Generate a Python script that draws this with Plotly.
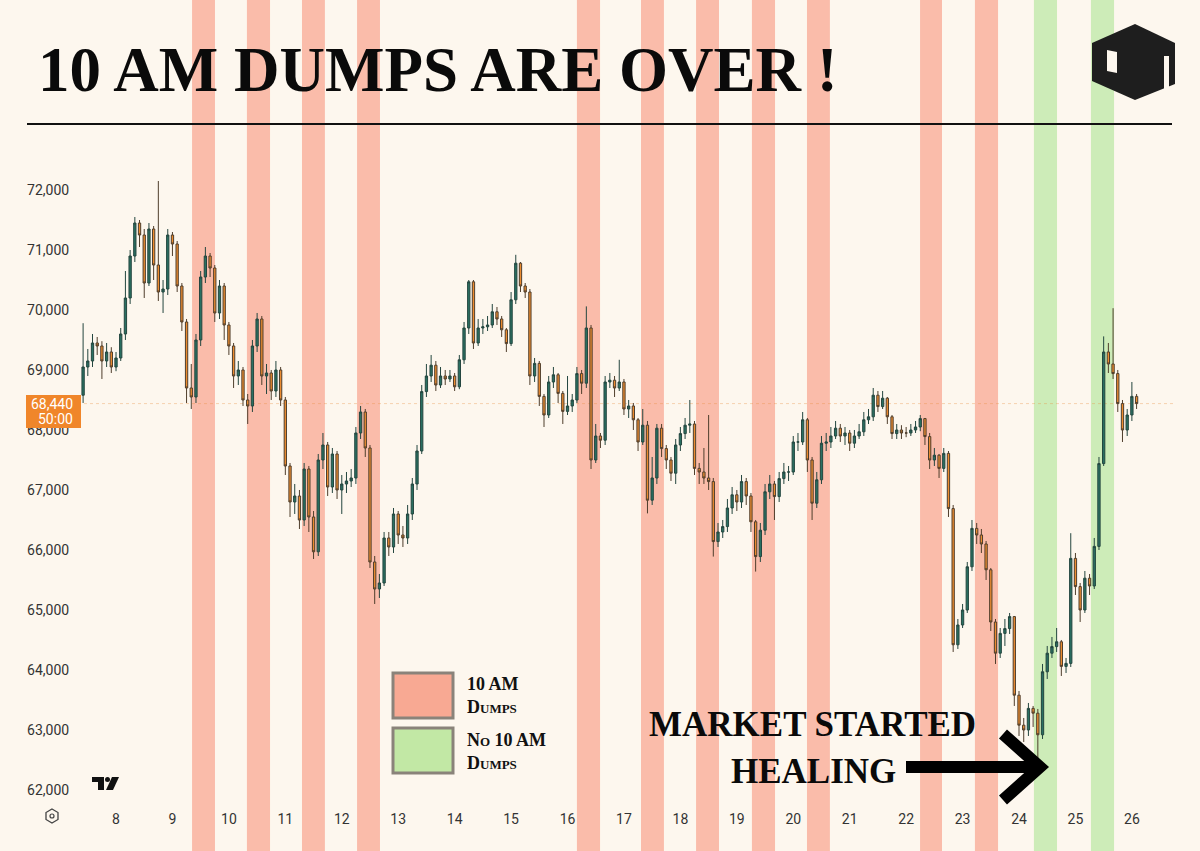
import pandas as pd
import plotly.graph_objects as go

W, H = 1200, 851
BG = '#fdf7ee'

# ── Candle data (2h bars) ────────────────────────────────────────────────────
START = '2024-03-07 10:00'
FIRST_OPEN = 68580
CLOSE = [
    69050, 69150, 69450, 69400, 69150, 69300, 69050, 69200, 69600, 70200,
    70900, 71450, 71250, 70450, 71350, 70750, 70300, 70350, 71250, 71100,
    70400, 69800, 68700, 68550, 69500, 70550, 70900, 70700, 69950, 70400,
    69750, 69400, 68900, 69000, 68500, 68400, 69400, 69850, 68900, 68950,
    68650, 69000, 68500, 67400, 66800, 66900, 66500, 67350, 66550, 65970,
    67500, 67750, 67050, 67600, 67000, 67100, 67150, 67200, 67950, 68300,
    67700, 65800, 65350, 65450, 66200, 66050, 66600, 66250, 66200, 66600,
    67100, 67650, 68640, 68900, 69080, 68750, 68900, 68850, 68900, 68720,
    69170, 69700, 70470, 69450, 69700, 69720, 69750, 69970, 69850, 69670,
    69440, 70170, 70780, 70400, 70300, 68900, 69110, 68560, 68250, 68800,
    68920, 68610, 68310, 68400, 68500, 68940, 68780, 69700, 67500, 67900,
    67830, 68800, 68830, 68700, 68800, 68350, 68400, 68170, 67800, 68080,
    66830, 67200, 68030, 67690, 67500, 67280, 67750, 67940, 68080, 68100,
    67360, 67300, 67200, 67140, 66140, 66300, 66390, 66700, 66920, 66800,
    67140, 66900, 66470, 65890, 66330, 66970, 67100, 66890, 67190, 67300,
    67300, 67800, 67800, 68170, 67500, 66780, 67170, 67780, 67800, 67900,
    68030, 67900, 67950, 67780, 67900, 67970, 68170, 68220, 68580, 68390,
    68530, 68220, 67940, 68000, 67950, 67950, 68000, 68050, 68190, 67890,
    67500, 67580, 67360, 67610, 66690, 64420, 64750, 65000, 65720, 66360,
    66250, 66100, 65670, 64800, 64280, 64610, 64690, 64890, 63580, 63080,
    63000, 63360, 63280, 62920, 63970, 64280, 64390, 64470, 64060, 64110,
    65860, 65390, 65000, 65530, 65400, 66060, 67440, 69300, 69100, 68940,
    68440, 68000, 68250, 68560, 68440,
]
HIGH = [
    69780, 69350, 69600, 69550, 69480, 69450, 69380, 69300, 69700, 70650,
    71000, 71550, 71500, 71350, 71450, 71400, 72150, 70500, 71350, 71300,
    71150, 70450, 69850, 69100, 69600, 70650, 71050, 70950, 70750, 70500,
    70450, 69800, 69450, 69150, 69050, 68600, 69500, 69950, 69900, 69100,
    69000, 69150, 69050, 68550, 67450, 67100, 67000, 67450, 67400, 66650,
    67600, 67950, 67800, 67700, 67650, 67250, 67300, 67350, 68050, 68400,
    68350, 67750, 65900, 65600, 66300, 66300, 66700, 66650, 66400, 66750,
    67200, 67750, 68750, 69100, 69250, 69150, 69050, 69000, 69000, 68950,
    69250, 69800, 70500, 70500, 69850, 69850, 69900, 70100, 70050, 69900,
    69700, 70300, 70920, 70800, 70450, 70350, 69200, 69150, 68600, 68900,
    69050, 68950, 68650, 68900, 68600, 69050, 69000, 70060, 69750, 68100,
    67950, 68900, 68950, 68900, 69170, 68850, 68500, 68450, 68200, 68350,
    68150, 67550, 68100, 68100, 67750, 67550, 67850, 68050, 68200, 68500,
    68150, 67450, 67700, 68250, 67200, 66450, 66500, 66850, 67050, 67000,
    67250, 67200, 66950, 66500, 66450, 67100, 67250, 67150, 67300, 67450,
    67400, 67900, 67950, 68300, 68200, 67550, 67300, 67900, 67950, 68050,
    68150, 68100, 68050, 68000, 68000, 68100, 68300, 68350, 68700, 68650,
    68650, 68550, 68250, 68100, 68080, 68050, 68100, 68150, 68250, 68200,
    67950, 67700, 67600, 67700, 67650, 66750, 64850, 65100, 65800, 66500,
    66450, 66350, 66150, 65700, 64850, 64700, 64850, 64950, 64900, 63650,
    63200, 63450, 63400, 63350, 64100, 64400, 64550, 64700, 64500, 64200,
    66280, 65950, 65450, 65650, 65600, 66200, 67550, 69560, 69450, 70030,
    69000, 68500, 68350, 68800, 68600,
]
LOW = [
    68450, 68900, 69050, 69250, 68850, 69050, 68950, 68980, 69150, 69500,
    70100, 70800, 71050, 70200, 70400, 70500, 70150, 69950, 70250, 70900,
    70300, 69650, 68450, 68350, 68450, 69400, 70450, 70550, 69800, 69850,
    69500, 69250, 68700, 68750, 68400, 68100, 68300, 69300, 68750, 68600,
    68500, 68550, 68400, 67250, 66550, 66600, 66350, 66400, 66300, 65850,
    65900, 67350, 66900, 66950, 66850, 66600, 66950, 67050, 67100, 67850,
    67550, 65700, 65100, 65200, 65400, 65900, 65950, 66100, 66050, 66100,
    66500, 67000, 67600, 68550, 68800, 68650, 68700, 68750, 68800, 68650,
    68680, 69100, 69600, 69350, 69400, 69600, 69650, 69700, 69750, 69550,
    69300, 69400, 70100, 70300, 70200, 68750, 68800, 68400, 68050, 68200,
    68700, 68450, 68100, 68250, 68300, 68450, 68600, 68700, 67350, 67450,
    67700, 67750, 68700, 68550, 68650, 68250, 68200, 68000, 67650, 67750,
    66610, 66750, 67100, 67550, 67350, 67150, 67100, 67650, 67850, 67950,
    67250, 67100, 67100, 67000, 65890, 66050, 66200, 66300, 66600, 66650,
    66700, 66750, 66300, 65640, 65800, 66250, 66850, 66500, 66800, 67100,
    67150, 67250, 67650, 67750, 67300, 66500, 66700, 67100, 67650, 67700,
    67850, 67800, 67750, 67650, 67700, 67850, 67900, 68100, 68150, 68300,
    68350, 68100, 67850, 67850, 67850, 67880, 67900, 67950, 67980, 67750,
    67350, 67400, 67200, 67300, 66550, 64300, 64350, 64700, 64950, 65650,
    66100, 65950, 65500, 64650, 64100, 64200, 64400, 64600, 63400, 62900,
    62800, 62900, 63050, 62500, 62850, 63850, 64200, 64300, 63900, 63950,
    64050, 65250, 64800, 64950, 65250, 65350, 66000, 67400, 68950, 68850,
    68300, 67800, 67900, 68150, 68350,
]

# ── Session bands (start / end) ──────────────────────────────────────────────
BAND_STARTS = [
    '2024-03-09 08:20', '2024-03-10 07:40', '2024-03-11 07:05', '2024-03-12 06:30',
    '2024-03-16 04:00', '2024-03-17 07:15', '2024-03-18 06:40', '2024-03-19 06:25',
    '2024-03-20 05:50', '2024-03-22 05:55', '2024-03-23 05:15',
    '2024-03-24 06:20', '2024-03-25 06:35',
]
BAND_ENDS = [
    '2024-03-09 18:05', '2024-03-10 17:30', '2024-03-11 16:50', '2024-03-12 16:15',
    '2024-03-16 13:50', '2024-03-17 17:00', '2024-03-18 16:25', '2024-03-19 16:15',
    '2024-03-20 15:35', '2024-03-22 15:15', '2024-03-23 15:05',
    '2024-03-24 16:10', '2024-03-25 16:25',
]
BAND_KIND = ['dump'] * 11 + ['heal'] * 2

Y_TICKS = [62000, 63000, 64000, 65000, 66000, 67000, 68000, 69000, 70000, 71000, 72000]
LAST_PRICE = 68440
LAST_PRICE_TEXT = '68,440'
COUNTDOWN_TEXT = '50:00'

X_RANGE = ['2024-03-07 07:50', '2024-03-26 18:20']
Y_RANGE = [61833, 73000]

BAND_COLORS = {'dump': '#fabcaa', 'heal': '#cdecb8'}
SERIF = 'Liberation Serif'
SANS = 'Roboto'
INK = '#1e1e1e'


def pxx(x):
    return x / W


def pxy(y):
    return 1 - y / H


def poly(points, close=True):
    s = 'M ' + ' L '.join(f'{pxx(x):.5f},{pxy(y):.5f}' for x, y in points)
    return s + (' Z' if close else '')


def paper_path(points, fill=None, line=None, close=True):
    return dict(type='path', xref='paper', yref='paper', path=poly(points, close),
                fillcolor=fill if fill else 'rgba(0,0,0,0)',
                line=line if line else dict(width=0))


times = pd.date_range(START, periods=len(CLOSE), freq='2h')
opens = [FIRST_OPEN] + CLOSE[:-1]

fig = go.Figure()
fig.add_trace(go.Candlestick(
    x=times, open=opens, high=HIGH, low=LOW, close=CLOSE,
    increasing=dict(line=dict(color='#24463f', width=1), fillcolor='#2a7062'),
    decreasing=dict(line=dict(color='#4f3e2c', width=1), fillcolor='#ec8c30'),
    showlegend=False, hoverinfo='skip',
))

shapes = []
# vertical session bands, full figure height
for s, e, k in zip(BAND_STARTS, BAND_ENDS, BAND_KIND):
    shapes.append(dict(type='rect', xref='x', yref='paper', x0=s, x1=e,
                       y0=-0.2, y1=1.2, fillcolor=BAND_COLORS[k],
                       line=dict(width=0), layer='below'))

# last price dotted line
shapes.append(dict(type='line', xref='paper', yref='y', x0=pxx(78), x1=pxx(1175),
                   y0=LAST_PRICE, y1=LAST_PRICE,
                   line=dict(color='rgba(235,140,60,0.35)', width=1, dash='dot'),
                   layer='below'))

# title separator
shapes.append(dict(type='line', xref='paper', yref='paper', x0=pxx(27), x1=pxx(1172),
                   y0=pxy(124), y1=pxy(124), line=dict(color='#111', width=2)))

# logo
shapes.append(paper_path([(1092, 43), (1135, 24), (1175, 43), (1175, 84),
                          (1135, 100), (1092, 81)], fill=INK))
shapes.append(paper_path([(1107, 50), (1117, 52), (1117, 73), (1107, 71)], fill=BG))
shapes.append(paper_path([(1164, 56), (1169, 56), (1169, 92), (1164, 92)], fill=BG))

# price tag box
shapes.append(dict(type='rect', xref='paper', yref='paper', x0=pxx(26), x1=pxx(81),
                   y0=pxy(428), y1=pxy(395), fillcolor='#f0862a', line=dict(width=0)))

# legend boxes
shapes.append(dict(type='rect', xref='paper', yref='paper', x0=pxx(393), x1=pxx(453),
                   y0=pxy(718), y1=pxy(673), fillcolor='#f8a993',
                   line=dict(color='#8a837a', width=3)))
shapes.append(dict(type='rect', xref='paper', yref='paper', x0=pxx(393), x1=pxx(453),
                   y0=pxy(773), y1=pxy(728), fillcolor='#c2e8a5',
                   line=dict(color='#8a837a', width=3)))

# arrow
shapes.append(dict(type='line', xref='paper', yref='paper', x0=pxx(906), x1=pxx(1034),
                   y0=pxy(767), y1=pxy(767), line=dict(color='#000', width=12)))
shapes.append(paper_path([(1003, 734), (1040, 767), (1003, 800)], close=False,
                         line=dict(color='#000', width=12)))

# TradingView mark
shapes.append(paper_path([(92, 777), (104, 777), (104, 790), (98, 790),
                          (98, 782), (92, 782)], fill='#111'))
shapes.append(dict(type='circle', xref='paper', yref='paper', x0=pxx(105), x1=pxx(110),
                   y0=pxy(782), y1=pxy(777), fillcolor='#111', line=dict(width=0)))
shapes.append(paper_path([(112, 777), (119, 777), (113, 790), (106, 790)], fill='#111'))

# settings hexagon
shapes.append(paper_path([(52, 809), (58, 812.5), (58, 819.5), (52, 823),
                          (46, 819.5), (46, 812.5)], line=dict(color='#444', width=1.3)))
shapes.append(dict(type='circle', xref='paper', yref='paper', x0=pxx(50), x1=pxx(54),
                   y0=pxy(818), y1=pxy(814), line=dict(color='#444', width=1.2)))

annotations = [
    dict(text='<b>10 AM DUMPS ARE OVER !</b>', x=pxx(36), y=pxy(70), xref='paper',
         yref='paper', xanchor='left', yanchor='middle', showarrow=False,
         font=dict(family=SERIF, size=63, color='#0a0a0a')),
    dict(text='<b>10 AM<br>Dumps</b>', x=pxx(465), y=pxy(695), xref='paper',
         yref='paper', xanchor='left', yanchor='middle', align='left', showarrow=False,
         font=dict(family=SERIF, size=18, color='#111', variant='small-caps')),
    dict(text='<b>No 10 AM<br>Dumps</b>', x=pxx(465), y=pxy(751), xref='paper',
         yref='paper', xanchor='left', yanchor='middle', align='left', showarrow=False,
         font=dict(family=SERIF, size=18, color='#111', variant='small-caps')),
    dict(text='<b>MARKET STARTED</b>', x=pxx(812), y=pxy(724), xref='paper',
         yref='paper', xanchor='center', yanchor='middle', showarrow=False,
         font=dict(family=SERIF, size=35, color='#0a0a0a')),
    dict(text='<b>HEALING</b>', x=pxx(813), y=pxy(771), xref='paper',
         yref='paper', xanchor='center', yanchor='middle', showarrow=False,
         font=dict(family=SERIF, size=35, color='#0a0a0a')),
    dict(text=LAST_PRICE_TEXT, x=pxx(75), y=pxy(404), xref='paper', yref='paper',
         xanchor='right', yanchor='middle', showarrow=False,
         font=dict(family=SANS, size=14, color='#ffffff')),
    dict(text=COUNTDOWN_TEXT, x=pxx(75), y=pxy(419), xref='paper', yref='paper',
         xanchor='right', yanchor='middle', showarrow=False,
         font=dict(family=SANS, size=14, color='#ffffff')),
]

fig.update_layout(
    width=W, height=H,
    margin=dict(l=0, r=0, t=0, b=0, pad=0),
    paper_bgcolor=BG,
    plot_bgcolor='rgba(0,0,0,0)',
    shapes=shapes,
    annotations=annotations,
    showlegend=False,
    xaxis=dict(
        type='date', domain=[pxx(78), pxx(1175)], range=X_RANGE,
        rangeslider=dict(visible=False),
        tickformat='%-d', dtick=86400000, tick0='2024-03-08',
        showgrid=False, zeroline=False, showline=False,
        ticks='outside', ticklen=6, tickcolor='rgba(0,0,0,0)',
        tickfont=dict(family=SANS, size=14, color='#333'),
    ),
    yaxis=dict(
        domain=[1 - 800 / H, 1 - 130 / H], range=Y_RANGE,
        tickvals=Y_TICKS, tickformat=',d',
        showgrid=False, zeroline=False, showline=False,
        ticks='outside', ticklen=5, tickcolor='rgba(0,0,0,0)',
        tickfont=dict(family=SANS, size=14, color='#333'),
    ),
)

fig.write_html('out.html', config={'displayModeBar': False},
               post_script="document.body.style.margin='0';")
